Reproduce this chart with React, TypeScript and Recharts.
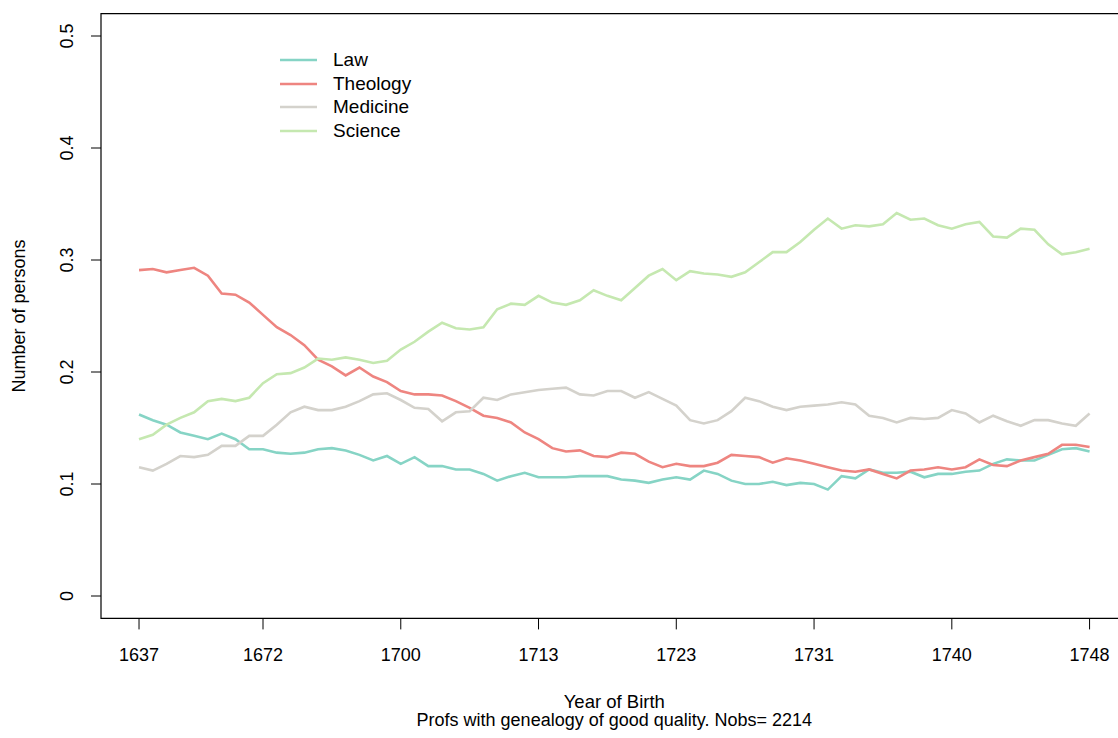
import React from "react";
import {
  LineChart,
  Line,
  XAxis,
  YAxis,
  Label,
  Legend,
  ReferenceArea,
} from "recharts";

// share of professors per faculty, rolling over birth cohorts (70 windows)
const law = [
  0.162, 0.157, 0.153, 0.146, 0.143, 0.14, 0.145, 0.14, 0.131, 0.131,
  0.128, 0.127, 0.128, 0.131, 0.132, 0.13, 0.126, 0.121, 0.125, 0.118,
  0.124, 0.116, 0.116, 0.113, 0.113, 0.109, 0.103, 0.107, 0.11, 0.106,
  0.106, 0.106, 0.107, 0.107, 0.107, 0.104, 0.103, 0.101, 0.104, 0.106,
  0.104, 0.112, 0.109, 0.103, 0.1, 0.1, 0.102, 0.099, 0.101, 0.1,
  0.095, 0.107, 0.105, 0.113, 0.11, 0.11, 0.111, 0.106, 0.109, 0.109,
  0.111, 0.112, 0.118, 0.122, 0.121, 0.121, 0.126, 0.131, 0.132, 0.129,
];

const theology = [
  0.291, 0.292, 0.289, 0.291, 0.293, 0.286, 0.27, 0.269, 0.262, 0.251,
  0.24, 0.233, 0.224, 0.211, 0.205, 0.197, 0.204, 0.196, 0.191, 0.183,
  0.18, 0.18, 0.179, 0.174, 0.168, 0.161, 0.159, 0.155, 0.146, 0.14,
  0.132, 0.129, 0.13, 0.125, 0.124, 0.128, 0.127, 0.12, 0.115, 0.118,
  0.116, 0.116, 0.119, 0.126, 0.125, 0.124, 0.119, 0.123, 0.121, 0.118,
  0.115, 0.112, 0.111, 0.113, 0.109, 0.105, 0.112, 0.113, 0.115, 0.113,
  0.115, 0.122, 0.117, 0.116, 0.121, 0.124, 0.127, 0.135, 0.135, 0.133,
];

const medicine = [
  0.115, 0.112, 0.118, 0.125, 0.124, 0.126, 0.134, 0.134, 0.143, 0.143,
  0.153, 0.164, 0.169, 0.166, 0.166, 0.169, 0.174, 0.18, 0.181, 0.175,
  0.168, 0.167, 0.156, 0.164, 0.165, 0.177, 0.175, 0.18, 0.182, 0.184,
  0.185, 0.186, 0.18, 0.179, 0.183, 0.183, 0.177, 0.182, 0.176, 0.17,
  0.157, 0.154, 0.157, 0.165, 0.177, 0.174, 0.169, 0.166, 0.169, 0.17,
  0.171, 0.173, 0.171, 0.161, 0.159, 0.155, 0.159, 0.158, 0.159, 0.166,
  0.163, 0.155, 0.161, 0.156, 0.152, 0.157, 0.157, 0.154, 0.152, 0.163,
];

const science = [
  0.14, 0.144, 0.153, 0.159, 0.164, 0.174, 0.176, 0.174, 0.177, 0.19,
  0.198, 0.199, 0.204, 0.212, 0.211, 0.213, 0.211, 0.208, 0.21, 0.22,
  0.227, 0.236, 0.244, 0.239, 0.238, 0.24, 0.256, 0.261, 0.26, 0.268,
  0.262, 0.26, 0.264, 0.273, 0.268, 0.264, 0.275, 0.286, 0.292, 0.282,
  0.29, 0.288, 0.287, 0.285, 0.289, 0.298, 0.307, 0.307, 0.316, 0.327,
  0.337, 0.328, 0.331, 0.33, 0.332, 0.342, 0.336, 0.337, 0.331, 0.328,
  0.332, 0.334, 0.321, 0.32, 0.328, 0.327, 0.314, 0.305, 0.307, 0.31,
];

// x axis: window index, labelled with the birth year at selected windows
const xTickIndex = [0, 9, 19, 29, 39, 49, 59, 69];
const xTickLabels = ["1637", "1672", "1700", "1713", "1723", "1731", "1740", "1748"];
const yTicks = [0, 0.1, 0.2, 0.3, 0.4, 0.5];

const series = [
  { key: "law", name: "Law", color: "#86d4c5" },
  { key: "theology", name: "Theology", color: "#ee8580" },
  { key: "medicine", name: "Medicine", color: "#d4d2cc" },
  { key: "science", name: "Science", color: "#c5e8b0" },
];

const data = law.map((v, i) => ({
  idx: i,
  law: v,
  theology: theology[i],
  medicine: medicine[i],
  science: science[i],
}));

// base-graphics style 4% padding around the data range
const xPad = (data.length - 1) * 0.04;
const xDomain = [-xPad, data.length - 1 + xPad];
const yDomain = [-0.02, 0.52];

const FONT = "'Liberation Sans', Arial, Helvetica, sans-serif";

function XTick({ x, y, payload }: any) {
  const i = xTickIndex.indexOf(payload.value);
  return (
    <text x={x} y={y + 30} textAnchor="middle" fontSize={18} fill="#000" fontFamily={FONT}>
      {xTickLabels[i]}
    </text>
  );
}

function YTick({ x, y, payload }: any) {
  const bx = x - 18;
  return (
    <text
      x={bx}
      y={y}
      transform={`rotate(-90 ${bx} ${y})`}
      textAnchor="middle"
      fontSize={18}
      fill="#000"
      fontFamily={FONT}
    >
      {payload.value === 0 ? "0" : String(payload.value)}
    </text>
  );
}

function YTitle({ viewBox }: any) {
  const cx = viewBox.x - 16;
  const cy = viewBox.y + viewBox.height / 2;
  return (
    <text
      x={cx}
      y={cy}
      transform={`rotate(-90 ${cx} ${cy})`}
      textAnchor="middle"
      fontSize={18}
      fill="#000"
      fontFamily={FONT}
    >
      Number of persons
    </text>
  );
}

function LegendBox() {
  return (
    <div style={{ fontFamily: FONT, fontSize: 19, color: "#000" }}>
      {series.map((s) => (
        <div key={s.key} style={{ display: "flex", alignItems: "center", height: 23.5 }}>
          <svg width={37} height={4} style={{ marginRight: 16 }}>
            <line x1={0} y1={2} x2={37} y2={2} stroke={s.color} strokeWidth={2.5} />
          </svg>
          <span>{s.name}</span>
        </div>
      ))}
    </div>
  );
}

export default function App() {
  return (
    <div
      style={{
        position: "absolute",
        left: 0,
        top: 0,
        width: 1118,
        height: 738,
        overflow: "hidden",
        background: "#fff",
      }}
    >
      <LineChart
        width={1140}
        height={738}
        data={data}
        margin={{ top: 13.6, right: 12.4, bottom: 79.6, left: 41 }}
      >
        <XAxis
          dataKey="idx"
          type="number"
          domain={xDomain}
          ticks={xTickIndex}
          interval={0}
          allowDataOverflow
          height={40}
          axisLine={false}
          tickSize={11}
          tickLine={{ stroke: "#000", strokeWidth: 1 }}
          tick={<XTick />}
        >
          <Label
            value="Year of Birth"
            position="bottom"
            offset={36}
            fontSize={18.5}
            fill="#000"
            fontFamily={FONT}
          />
          <Label
            value="Profs with genealogy of good quality. Nobs= 2214"
            position="bottom"
            offset={55}
            fontSize={18}
            fill="#000"
            fontFamily={FONT}
          />
        </XAxis>
        <YAxis
          type="number"
          domain={yDomain}
          ticks={yTicks}
          interval={0}
          allowDataOverflow
          width={60}
          axisLine={false}
          tickSize={10}
          tickMargin={0}
          tickLine={{ stroke: "#000", strokeWidth: 1 }}
          tick={<YTick />}
        >
          <Label content={<YTitle />} />
        </YAxis>
        <ReferenceArea
          x1={xDomain[0]}
          x2={xDomain[1]}
          y1={yDomain[0]}
          y2={yDomain[1]}
          fill="none"
          fillOpacity={0}
          stroke="#000"
          strokeWidth={1.2}
          ifOverflow="visible"
        />
        {/* vertical + centred so the legend box does not shrink the plot */}
        <Legend
          layout="vertical"
          align="center"
          verticalAlign="middle"
          content={<LegendBox />}
          wrapperStyle={{ left: 280, top: 48.5, width: "auto" }}
        />
        {series.map((s) => (
          <Line
            key={s.key}
            type="linear"
            dataKey={s.key}
            name={s.name}
            stroke={s.color}
            strokeWidth={2.6}
            dot={false}
            activeDot={false}
            isAnimationActive={false}
          />
        ))}
      </LineChart>
    </div>
  );
}
